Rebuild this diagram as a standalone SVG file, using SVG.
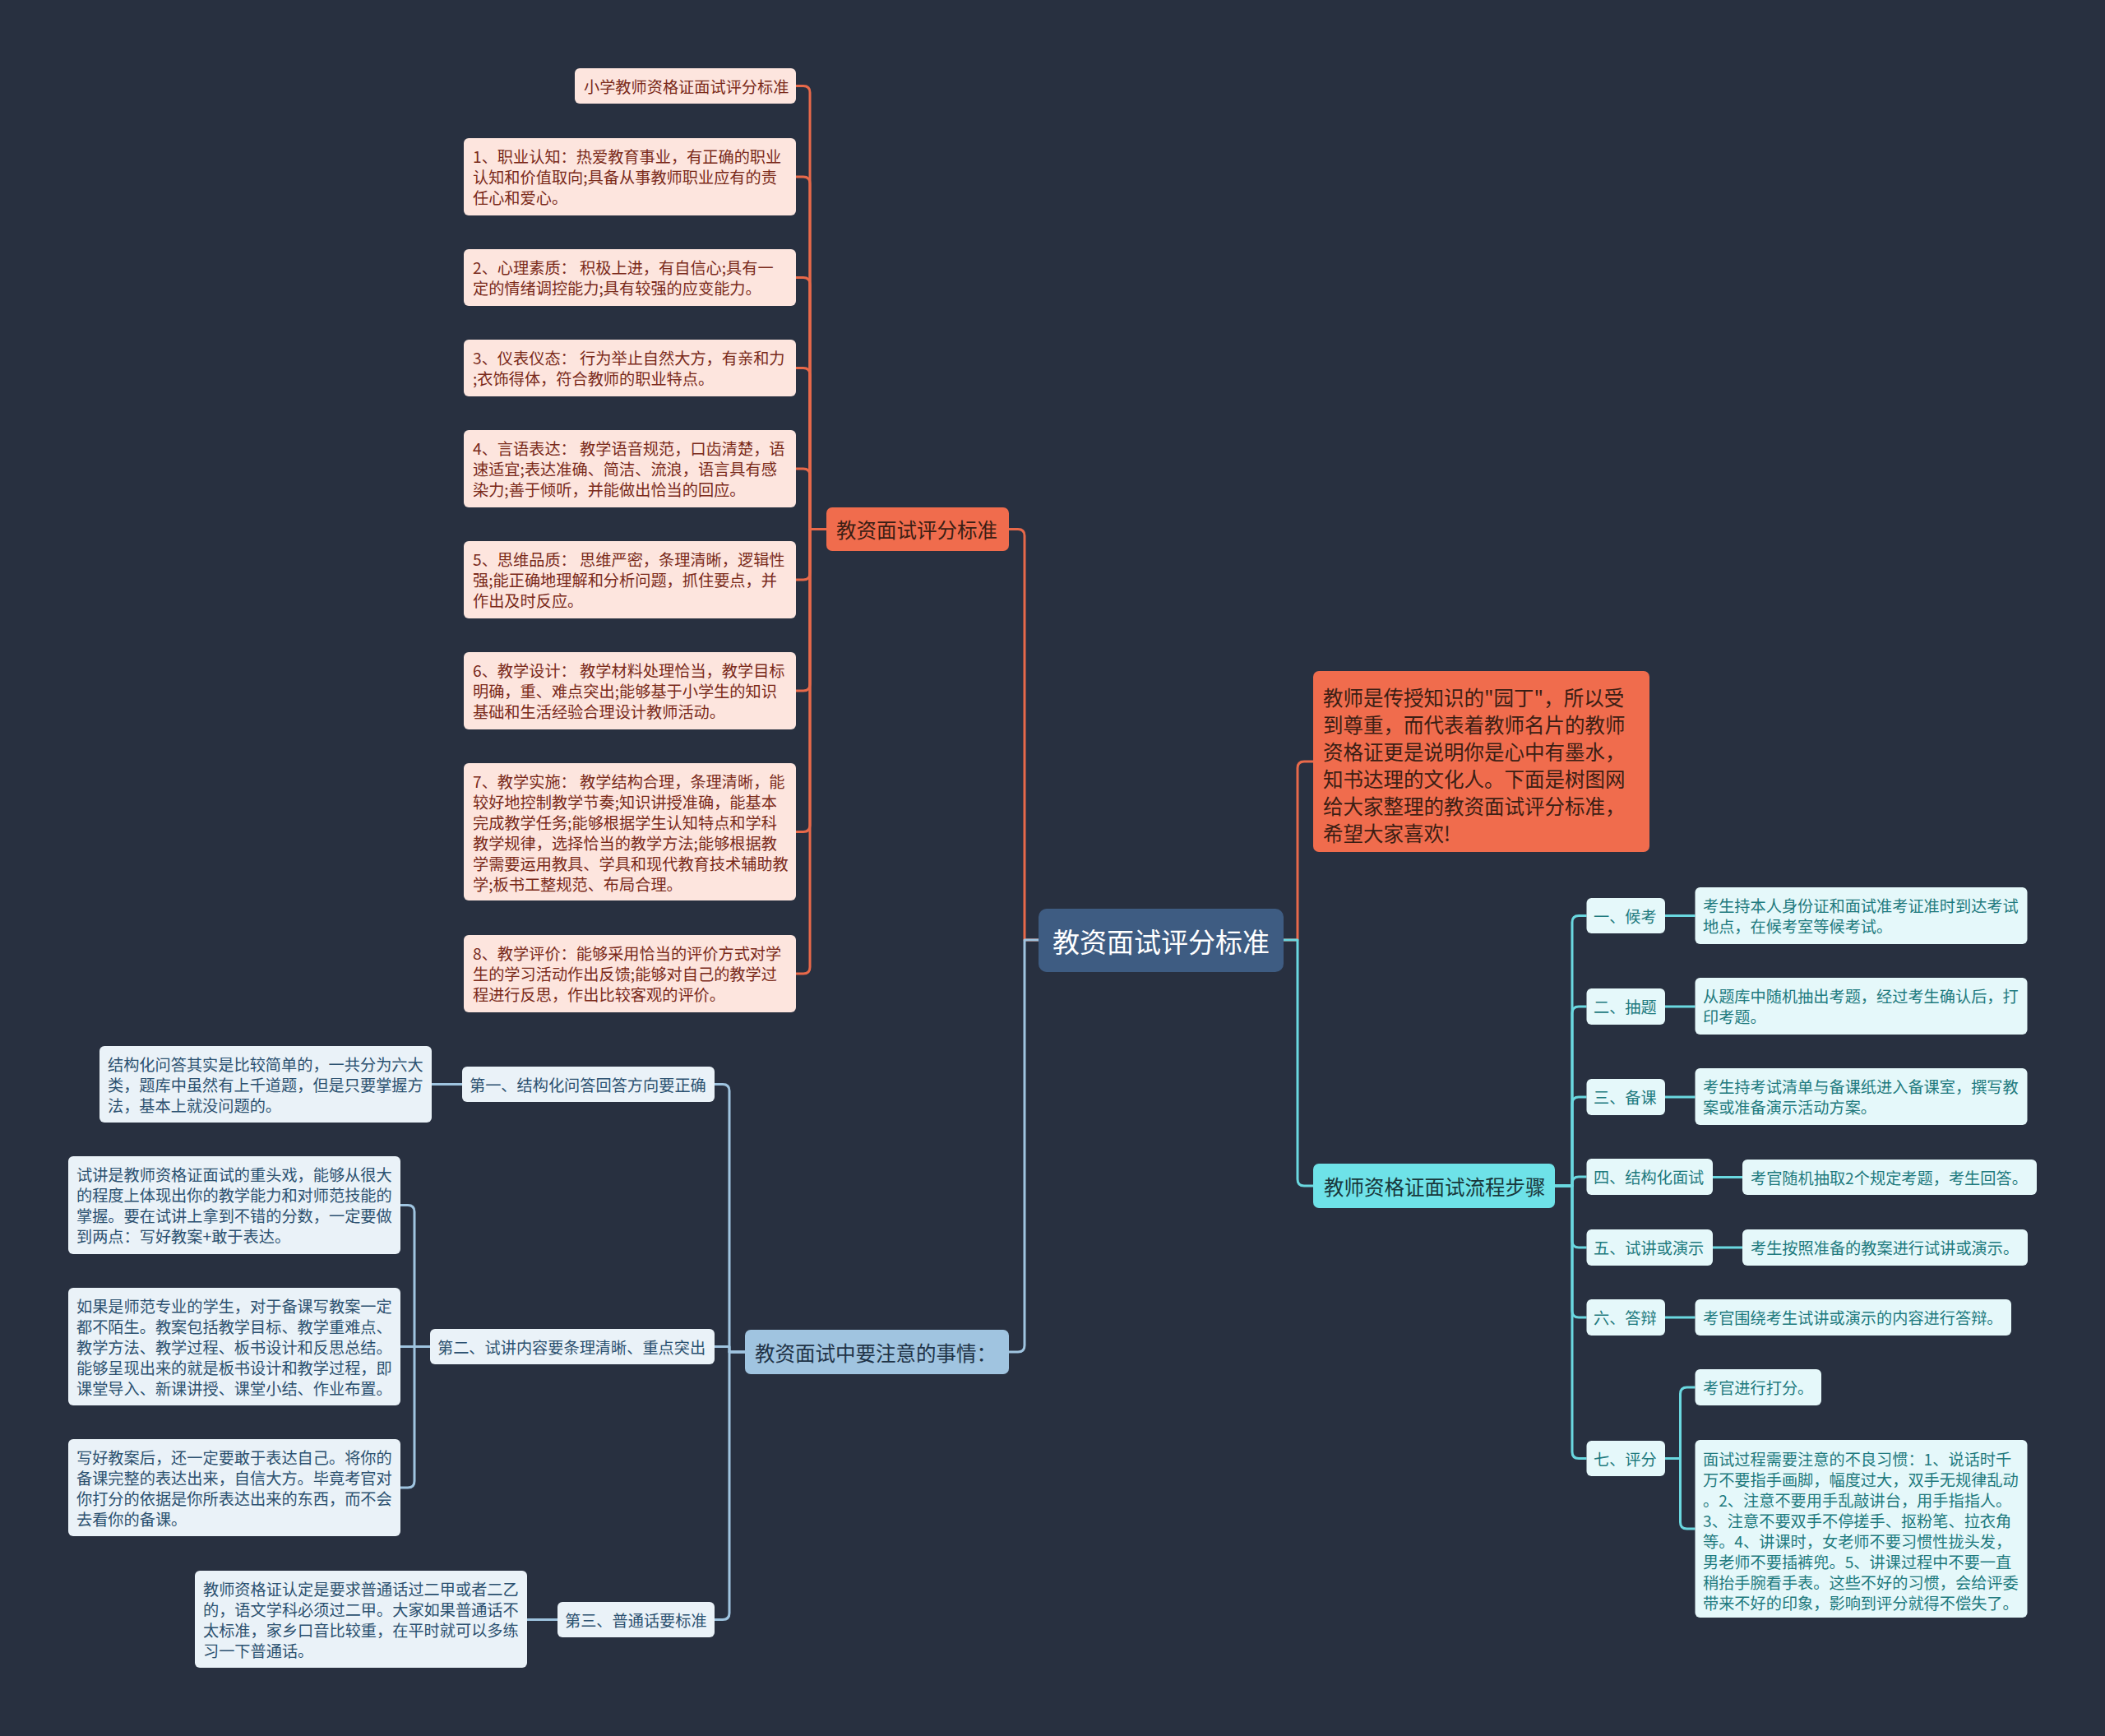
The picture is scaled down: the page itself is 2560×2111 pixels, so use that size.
<svg xmlns="http://www.w3.org/2000/svg" width="2560" height="2111" viewBox="0 0 2560 2111">
<style>
text{font-family:"Noto Sans CJK SC","Noto Sans",sans-serif;dominant-baseline:central}
.lf text,.s text{font-size:19.2px}
.o{fill:none;stroke:#e8694a;stroke-width:3;stroke-linejoin:round}
.c{fill:none;stroke:#6ad8e0;stroke-width:3;stroke-linejoin:round}
.b{fill:none;stroke:#9fc4e0;stroke-width:3;stroke-linejoin:round}
.pk rect{fill:#fde5de}.pk text{fill:#7a2a1a}
.bl rect{fill:#eaf2f8}.bl text{fill:#2c5170}
.cy rect{fill:#e5f8fa}.cy text{fill:#1e7a7e}
.br text{font-size:24.5px}
</style>
<rect x="0" y="0" width="2560" height="2111" fill="#283040"/>
<g id="connectors">
<path class="o" d="M1263 1143H1246V651.5Q1246 643.5 1238 643.5H1227"/>
<path class="o" d="M1005 643.5H985V112.5Q985 104.5 977 104.5H968"/>
<path class="o" d="M1005 643.5H985V223Q985 215 977 215H968"/>
<path class="o" d="M1005 643.5H985V345.5Q985 337.5 977 337.5H968"/>
<path class="o" d="M1005 643.5H985V455.5Q985 447.5 977 447.5H968"/>
<path class="o" d="M1005 643.5H985V578Q985 570 977 570H968"/>
<path class="o" d="M1005 643.5H985V697Q985 705 977 705H968"/>
<path class="o" d="M1005 643.5H985V832Q985 840 977 840H968"/>
<path class="o" d="M1005 643.5H985V1003.5Q985 1011.5 977 1011.5H968"/>
<path class="o" d="M1005 643.5H985V1176Q985 1184 977 1184H968"/>
<path class="o" d="M1561 1143H1578V934Q1578 926 1586 926H1597"/>
<path class="b" d="M1263 1143H1246V1636Q1246 1644 1238 1644H1227"/>
<path class="b" d="M906 1644H887V1326.5Q887 1318.5 879 1318.5H869"/>
<path class="b" d="M906 1644H887V1637.5H869"/>
<path class="b" d="M906 1644H887V1961.5Q887 1969.5 879 1969.5H869"/>
<path class="b" d="M562 1318.5H525"/>
<path class="b" d="M523 1637.5H504V1473.5Q504 1465.5 496 1465.5H487"/>
<path class="b" d="M523 1637.5H487"/>
<path class="b" d="M523 1637.5H504V1801Q504 1809 496 1809H487"/>
<path class="b" d="M678 1969.5H641"/>
<path class="c" d="M1561 1143H1578V1434Q1578 1442 1586 1442H1597"/>
<path class="c" d="M1891 1442H1912V1121.5Q1912 1113.5 1920 1113.5H1929.5"/>
<path class="c" d="M1891 1442H1912V1232Q1912 1224 1920 1224H1929.5"/>
<path class="c" d="M1891 1442H1912V1342Q1912 1334 1920 1334H1929.5"/>
<path class="c" d="M1891 1442H1912V1439Q1912 1431 1920 1431H1929.5"/>
<path class="c" d="M1891 1442H1912V1509Q1912 1517 1920 1517H1929.5"/>
<path class="c" d="M1891 1442H1912V1594Q1912 1602 1920 1602H1929.5"/>
<path class="c" d="M1891 1442H1912V1765.5Q1912 1773.5 1920 1773.5H1929.5"/>
<path class="c" d="M2025 1113.5H2061.5"/>
<path class="c" d="M2025 1224H2061.5"/>
<path class="c" d="M2025 1334H2061.5"/>
<path class="c" d="M2083 1431.5H2119"/>
<path class="c" d="M2083 1517H2119"/>
<path class="c" d="M2025 1602H2061.5"/>
<path class="c" d="M2025 1773.5H2043.5V1695Q2043.5 1687 2051.5 1687H2061.5"/>
<path class="c" d="M2025 1773.5H2043.5V1851Q2043.5 1859 2051.5 1859H2061.5"/>
</g>
<g id="root">
<rect x="1263" y="1105" width="298" height="77" rx="10" fill="#3e5c82"/>
<text x="1412" y="1143.5" font-size="33" fill="#ffffff" text-anchor="middle">教资面试评分标准</text>
</g>
<g id="b1" class="br">
<rect x="1005" y="617" width="222" height="53" rx="7" fill="#f06c4d"/>
<text x="1017" y="643.5" fill="#3b1e14">教资面试评分标准</text>
</g>
<g id="b3" class="br">
<rect x="906" y="1617" width="321" height="54" rx="7" fill="#a0c4e0"/>
<text x="918" y="1644" fill="#1f3347">教资面试中要注意的事情：</text>
</g>
<g id="intro" class="br">
<rect x="1597" y="816" width="409" height="220" rx="7" fill="#f06c4d"/>
<text x="1609" y="847" fill="#3b1e14">教师是传授知识的"园丁"，所以受</text>
<text x="1609" y="880" fill="#3b1e14">到尊重，而代表着教师名片的教师</text>
<text x="1609" y="913" fill="#3b1e14">资格证更是说明你是心中有墨水，</text>
<text x="1609" y="946" fill="#3b1e14">知书达理的文化人。下面是树图网</text>
<text x="1609" y="979" fill="#3b1e14">给大家整理的教资面试评分标准，</text>
<text x="1609" y="1012" fill="#3b1e14">希望大家喜欢!</text>
</g>
<g id="b2" class="br">
<rect x="1597" y="1415" width="294" height="54" rx="7" fill="#6ee2e8"/>
<text x="1610" y="1442" fill="#18373b">教师资格证面试流程步骤</text>
</g>
<g class="lf pk">
<g id="l0"><rect x="699" y="83" width="269" height="43" rx="6"/><text x="710" y="104.5">小学教师资格证面试评分标准</text></g>
<g id="l1"><rect x="564" y="168" width="404" height="94" rx="6"/><text x="575" y="190">1、职业认知：热爱教育事业，有正确的职业</text><text x="575" y="215">认知和价值取向;具备从事教师职业应有的责</text><text x="575" y="240">任心和爱心。</text></g>
<g id="l2"><rect x="564" y="303" width="404" height="69" rx="6"/><text x="575" y="325">2、心理素质： 积极上进，有自信心;具有一</text><text x="575" y="350">定的情绪调控能力;具有较强的应变能力。</text></g>
<g id="l3"><rect x="564" y="413" width="404" height="69" rx="6"/><text x="575" y="435">3、仪表仪态： 行为举止自然大方，有亲和力</text><text x="575" y="460">;衣饰得体，符合教师的职业特点。</text></g>
<g id="l4"><rect x="564" y="523" width="404" height="94" rx="6"/><text x="575" y="545">4、言语表达： 教学语音规范，口齿清楚，语</text><text x="575" y="570">速适宜;表达准确、简洁、流浪，语言具有感</text><text x="575" y="595">染力;善于倾听，并能做出恰当的回应。</text></g>
<g id="l5"><rect x="564" y="658" width="404" height="94" rx="6"/><text x="575" y="680">5、思维品质： 思维严密，条理清晰，逻辑性</text><text x="575" y="705">强;能正确地理解和分析问题，抓住要点，并</text><text x="575" y="730">作出及时反应。</text></g>
<g id="l6"><rect x="564" y="793" width="404" height="94" rx="6"/><text x="575" y="815">6、教学设计： 教学材料处理恰当，教学目标</text><text x="575" y="840">明确，重、难点突出;能够基于小学生的知识</text><text x="575" y="865">基础和生活经验合理设计教师活动。</text></g>
<g id="l7"><rect x="564" y="928" width="404" height="167" rx="6"/><text x="575" y="949.5">7、教学实施： 教学结构合理，条理清晰，能</text><text x="575" y="974.5">较好地控制教学节奏;知识讲授准确，能基本</text><text x="575" y="999.5">完成教学任务;能够根据学生认知特点和学科</text><text x="575" y="1024.5">教学规律，选择恰当的教学方法;能够根据教</text><text x="575" y="1049.5">学需要运用教具、学具和现代教育技术辅助教</text><text x="575" y="1074.5">学;板书工整规范、布局合理。</text></g>
<g id="l8"><rect x="564" y="1137" width="404" height="94" rx="6"/><text x="575" y="1159">8、教学评价：能够采用恰当的评价方式对学</text><text x="575" y="1184">生的学习活动作出反馈;能够对自己的教学过</text><text x="575" y="1209">程进行反思，作出比较客观的评价。</text></g>
</g>
<g class="lf bl">
<g id="s1"><rect x="562" y="1297" width="307" height="43" rx="6"/><text x="571" y="1318.5">第一、结构化问答回答方向要正确</text></g>
<g id="s1a"><rect x="121" y="1272" width="404" height="93" rx="6"/><text x="131" y="1293.5">结构化问答其实是比较简单的，一共分为六大</text><text x="131" y="1318.5">类，题库中虽然有上千道题，但是只要掌握方</text><text x="131" y="1343.5">法，基本上就没问题的。</text></g>
<g id="s2"><rect x="523" y="1616" width="346" height="43" rx="6"/><text x="532" y="1637.5">第二、试讲内容要条理清晰、重点突出</text></g>
<g id="s2a"><rect x="83" y="1406" width="404" height="119" rx="6"/><text x="93" y="1428">试讲是教师资格证面试的重头戏，能够从很大</text><text x="93" y="1453">的程度上体现出你的教学能力和对师范技能的</text><text x="93" y="1478">掌握。要在试讲上拿到不错的分数，一定要做</text><text x="93" y="1503">到两点：写好教案+敢于表达。</text></g>
<g id="s2b"><rect x="83" y="1566" width="404" height="143" rx="6"/><text x="93" y="1587.5">如果是师范专业的学生，对于备课写教案一定</text><text x="93" y="1612.5">都不陌生。教案包括教学目标、教学重难点、</text><text x="93" y="1637.5">教学方法、教学过程、板书设计和反思总结。</text><text x="93" y="1662.5">能够呈现出来的就是板书设计和教学过程，即</text><text x="93" y="1687.5">课堂导入、新课讲授、课堂小结、作业布置。</text></g>
<g id="s2c"><rect x="83" y="1750" width="404" height="118" rx="6"/><text x="93" y="1771.5">写好教案后，还一定要敢于表达自己。将你的</text><text x="93" y="1796.5">备课完整的表达出来，自信大方。毕竟考官对</text><text x="93" y="1821.5">你打分的依据是你所表达出来的东西，而不会</text><text x="93" y="1846.5">去看你的备课。</text></g>
<g id="s3"><rect x="678" y="1948" width="191" height="43" rx="6"/><text x="687" y="1969.5">第三、普通话要标准</text></g>
<g id="s3a"><rect x="237" y="1910" width="404" height="118" rx="6"/><text x="247" y="1931.5">教师资格证认定是要求普通话过二甲或者二乙</text><text x="247" y="1956.5">的，语文学科必须过二甲。大家如果普通话不</text><text x="247" y="1981.5">太标准，家乡口音比较重，在平时就可以多练</text><text x="247" y="2006.5">习一下普通话。</text></g>
</g>
<g class="lf cy">
<g id="i1"><rect x="1929.5" y="1092" width="95.5" height="43" rx="6"/><text x="1938" y="1113.5">一、候考</text></g>
<g id="i2"><rect x="1929.5" y="1202" width="95.5" height="44" rx="6"/><text x="1938" y="1224">二、抽题</text></g>
<g id="i3"><rect x="1929.5" y="1312" width="95.5" height="44" rx="6"/><text x="1938" y="1334">三、备课</text></g>
<g id="i4"><rect x="1929.5" y="1409" width="153.5" height="44" rx="6"/><text x="1938" y="1431">四、结构化面试</text></g>
<g id="i5"><rect x="1929.5" y="1495" width="153.5" height="44" rx="6"/><text x="1938" y="1517">五、试讲或演示</text></g>
<g id="i6"><rect x="1929.5" y="1580" width="95.5" height="44" rx="6"/><text x="1938" y="1602">六、答辩</text></g>
<g id="i7"><rect x="1929.5" y="1752" width="95.5" height="43" rx="6"/><text x="1938" y="1773.5">七、评分</text></g>
<g id="r1"><rect x="2061.5" y="1079" width="404" height="69" rx="6"/><text x="2071" y="1101">考生持本人身份证和面试准考证准时到达考试</text><text x="2071" y="1126">地点，在候考室等候考试。</text></g>
<g id="r2"><rect x="2061.5" y="1189" width="404" height="69" rx="6"/><text x="2071" y="1211">从题库中随机抽出考题，经过考生确认后，打</text><text x="2071" y="1236">印考题。</text></g>
<g id="r3"><rect x="2061.5" y="1299" width="404" height="69" rx="6"/><text x="2071" y="1321">考生持考试清单与备课纸进入备课室，撰写教</text><text x="2071" y="1346">案或准备演示活动方案。</text></g>
<g id="r4"><rect x="2119" y="1410" width="358" height="43" rx="6"/><text x="2129" y="1431.5">考官随机抽取2个规定考题，考生回答。</text></g>
<g id="r5"><rect x="2119" y="1495" width="347" height="44" rx="6"/><text x="2129" y="1517">考生按照准备的教案进行试讲或演示。</text></g>
<g id="r6"><rect x="2061.5" y="1580" width="384.5" height="44" rx="6"/><text x="2071" y="1602">考官围绕考生试讲或演示的内容进行答辩。</text></g>
<g id="r7a"><rect x="2061.5" y="1665" width="153.5" height="44" rx="6"/><text x="2071" y="1687">考官进行打分。</text></g>
<g id="r7b"><rect x="2061.5" y="1751" width="404" height="216" rx="6"/><text x="2071" y="1773.5">面试过程需要注意的不良习惯：1、说话时千</text><text x="2071" y="1798.5">万不要指手画脚，幅度过大，双手无规律乱动</text><text x="2071" y="1823.5">。2、注意不要用手乱敲讲台，用手指指人。</text><text x="2071" y="1848.5">3、注意不要双手不停搓手、抠粉笔、拉衣角</text><text x="2071" y="1873.5">等。4、讲课时，女老师不要习惯性拢头发，</text><text x="2071" y="1898.5">男老师不要插裤兜。5、讲课过程中不要一直</text><text x="2071" y="1923.5">稍抬手腕看手表。这些不好的习惯，会给评委</text><text x="2071" y="1948.5">带来不好的印象，影响到评分就得不偿失了。</text></g>
</g>
</svg>
